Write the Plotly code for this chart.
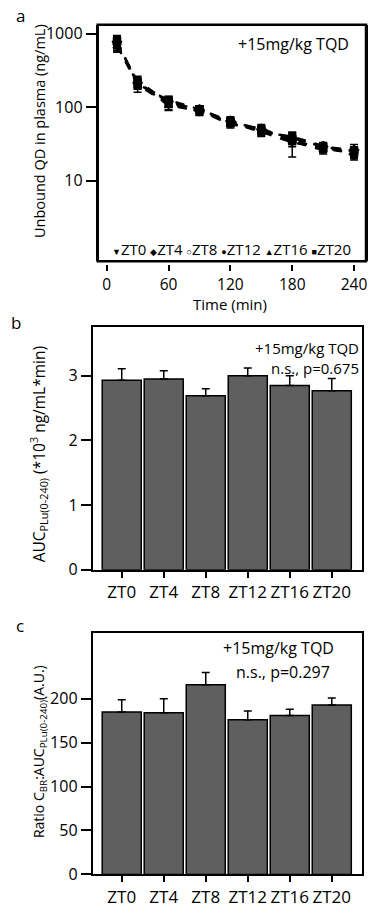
import plotly.graph_objects as go

# ---------------- data ----------------
times = [10, 30, 60, 90, 120, 150, 180, 210, 240]
series_names = ["ZT0", "ZT4", "ZT8", "ZT12", "ZT16", "ZT20"]
zt0 = [700, 200, 110, 88, 62, 46, 33, 28, 23]
zt4 = [780, 215, 120, 92, 65, 50, 38, 29, 26]
zt8 = [720, 230, 115, 95, 60, 48, 36, 27, 24]
zt12 = [760, 210, 118, 86, 66, 45, 40, 30, 22]
zt16 = [680, 220, 105, 90, 58, 52, 34, 26, 27]
zt20 = [800, 205, 125, 94, 64, 49, 37, 29, 25]
zt0_err = [140, 40, 18, 10, 7, 5, 12, 3, 3]
zt4_err = [150, 30, 15, 9, 6, 6, 6, 3, 3]
zt8_err = [130, 35, 15, 10, 6, 5, 5, 3, 3]
zt12_err = [140, 30, 14, 9, 8, 5, 6, 3, 3]
zt16_err = [120, 35, 15, 9, 6, 6, 5, 3, 4]
zt20_err = [150, 30, 16, 10, 7, 6, 6, 3, 3]
series_vals = [zt0, zt4, zt8, zt12, zt16, zt20]
series_errs = [zt0_err, zt4_err, zt8_err, zt12_err, zt16_err, zt20_err]
series_symbols = ["triangle-down-open", "diamond-open", "circle-open", "circle", "triangle-up", "square"]

categories = ["ZT0", "ZT4", "ZT8", "ZT12", "ZT16", "ZT20"]
auc_vals = [2.93, 2.95, 2.69, 3.00, 2.85, 2.77]
auc_err = [0.18, 0.13, 0.11, 0.12, 0.15, 0.19]
ratio_vals = [185, 184, 216, 176, 181, 193]
ratio_err = [14, 16, 14, 10, 7, 8]

FONT = "Open Sans"
W, H = 372, 914

def px(x):
    return x / W

def py(y):
    return 1 - y / H

fig = go.Figure()

# ---------------- panel a ----------------
for name, vals, errs, sym in zip(series_names, series_vals, series_errs, series_symbols):
    fig.add_trace(go.Scatter(
        x=times, y=vals, name=name, mode="lines+markers",
        line=dict(color="black", width=2.2, dash="dash"),
        marker=dict(symbol=sym, size=7, color="black", line=dict(color="black", width=1.5)),
        error_y=dict(type="data", array=errs, color="black", thickness=1.5, width=4),
        xaxis="x", yaxis="y", showlegend=False,
    ))

# ---------------- panel b ----------------
fig.add_trace(go.Bar(
    x=categories, y=auc_vals, width=0.93,
    marker=dict(color="#5f5f5f", line=dict(color="black", width=1.5)),
    error_y=dict(type="data", array=auc_err, arrayminus=[0] * len(auc_err),
                 color="black", thickness=1.5, width=4),
    xaxis="x2", yaxis="y2", showlegend=False,
))

# ---------------- panel c ----------------
fig.add_trace(go.Bar(
    x=categories, y=ratio_vals, width=0.93,
    marker=dict(color="#5f5f5f", line=dict(color="black", width=1.5)),
    error_y=dict(type="data", array=ratio_err, arrayminus=[0] * len(ratio_err),
                 color="black", thickness=1.5, width=4),
    xaxis="x3", yaxis="y3", showlegend=False,
))

def axis_style(size=16, ticklen=6, line=True, mirror=True):
    return dict(
        showline=line, linecolor="black", linewidth=2, mirror=mirror,
        ticks="outside", ticklen=ticklen, tickwidth=1.5, tickcolor="black",
        showgrid=False, zeroline=False,
        tickfont=dict(family=FONT, size=size, color="black"),
    )

A_TOP, A_BOT, A_L, A_R = 23, 263, 98, 367

fig.update_layout(
    width=W, height=H,
    margin=dict(l=0, r=0, t=0, b=0),
    paper_bgcolor="white", plot_bgcolor="white",
    font=dict(family=FONT, size=16, color="black"),
    xaxis=dict(domain=[px(A_L), px(A_R)], anchor="free", position=py(A_BOT + 3),
               range=[-8.7, 251.6], tickvals=[0, 60, 120, 180, 240],
               **axis_style(15.5, 6, line=False, mirror=False)),
    yaxis=dict(domain=[py(A_BOT), py(A_TOP)], anchor="x", type="log", range=[-0.10, 3.125],
               tickvals=[10, 100, 1000], ticktext=["10", "100", "1000"],
               **axis_style(16, 10, line=True, mirror=True)),
    xaxis2=dict(domain=[px(93), px(363)], anchor="y2", range=[-0.69, 5.72],
                **axis_style(17, 6)),
    yaxis2=dict(domain=[py(576), py(330)], anchor="x2", range=[0, 3.75],
                tickvals=[0, 1, 2, 3], **axis_style(16, 10)),
    xaxis3=dict(domain=[px(93), px(363)], anchor="y3", range=[-0.69, 5.72],
                **axis_style(17, 6)),
    yaxis3=dict(domain=[py(885), py(640)], anchor="x3", range=[0, 275],
                tickvals=[0, 50, 100, 150, 200], **axis_style(16, 10)),
    shapes=[dict(type="rect", xref="x domain", yref="y domain", x0=0, x1=1, y0=0, y1=1,
                 line=dict(color="black", width=2.5))],
)

anns = []

def ann(text, x, y, xanchor="center", yanchor="middle", size=16, angle=0):
    anns.append(dict(text=text, x=px(x), y=py(y), xref="paper", yref="paper",
                     xanchor=xanchor, yanchor=yanchor, showarrow=False,
                     textangle=angle, font=dict(family=FONT, size=size, color="black")))

# panel labels
ann("a", 21, 14, size=17)
ann("b", 16, 325, size=17)
ann("c", 20, 633, size=17)

# axis titles
ann("Unbound QD in plasma (ng/mL)", 39, 131, angle=-90, size=14.5)
ann("Time (min)", 231, 306, size=15)
ann("AUC<sub>PLu(0-240)</sub> (*10<sup>3</sup> ng/mL*min)", 39, 459, angle=-90, size=15.5)
ann("Ratio C<sub>BR</sub>:AUC<sub>PLu(0-240)</sub>(A.U.)", 39, 760, angle=-90, size=14)

# in-plot texts
ann("+15mg/kg TQD", 352, 43, xanchor="right")
ann("+15mg/kg TQD", 362, 351, xanchor="right", size=15)
ann("n.s., p=0.675", 362, 371, xanchor="right", size=15)
ann("+15mg/kg TQD", 337, 655, xanchor="right")
ann("n.s., p=0.297", 333, 680, xanchor="right")

# legend as text
sym_chars = ["▼", "◆", "○", "●", "▲", "■"]
legend_text = " ".join(
    f'<span style="font-size:9px">{s}</span>{n}' for s, n in zip(sym_chars, series_names)
)
ann(legend_text, 232, 251, size=15)

fig.update_layout(annotations=anns)

fig.write_html("out.html")
